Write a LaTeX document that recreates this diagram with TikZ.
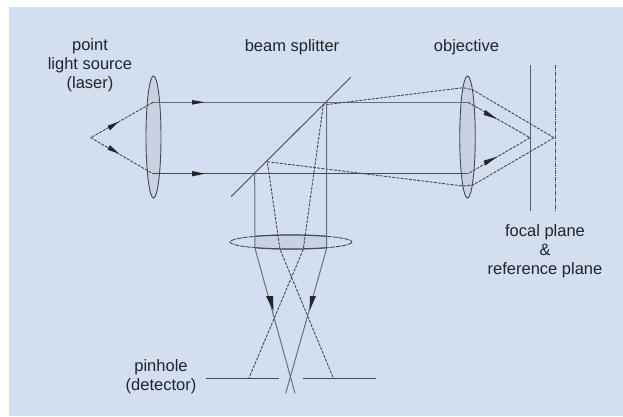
\documentclass[tikz,border=0pt]{standalone}
\usepackage{fontspec}
\setmainfont{Liberation Sans}
\definecolor{bgblue}{RGB}{211,223,240}
\definecolor{lensfill}{RGB}{200,210,227}
\definecolor{ink}{RGB}{70,73,80}
\definecolor{txt}{RGB}{35,35,40}
\usetikzlibrary{shapes.geometric}
\tikzset{
 solidray/.style={draw=ink,line width=1.1pt},
 lightray/.style={draw=ink!75!bgblue,line width=1pt},
 dashray/.style={draw=ink,line width=0.9pt,dash pattern=on 3pt off 1.2pt},
 lens/.style={ellipse,draw=ink,line width=0.9pt,fill=lensfill,inner sep=0pt},
 label/.style={text=txt,font=\fontsize{16.5}{18.9}\selectfont,align=center,inner sep=0pt},
 tipfill/.style={fill=black!85,draw=none},
}
\begin{document}
\begin{tikzpicture}[x=1pt,y=-1pt]
\useasboundingbox (0,0) rectangle (623,416);
\fill[white] (0,0) rectangle (623,416);
\fill[bgblue] (9,7) rectangle (623,416);
% lenses
\node[lens,minimum width=15pt,minimum height=122pt] (lensA) at (153.5,137) {};
\node[lens,minimum width=15.5pt,minimum height=122pt] (lensB) at (467.5,137) {};
\draw[ink,line width=0.9pt,dash pattern=on 5pt off 1pt] (291,242) ellipse (61 and 7);
\begin{scope}
 \clip (255,230) rectangle (327,255);
 \fill[lensfill] (291,242) ellipse (61 and 7);
 \draw[ink,line width=1.2pt] (291,242) ellipse (61 and 7);
\end{scope}
% coordinates
\coordinate (src) at (90.7,137.7);
\coordinate (a1) at (153,102.3);
\coordinate (a2) at (153,173.7);
\coordinate (t) at (326.7,102.3);
\coordinate (b) at (254.7,173.7);
\coordinate (o1) at (468,102.3);
\coordinate (o2) at (468,173.7);
\coordinate (f) at (530,137.7);
\coordinate (r) at (554,137.7);
% illumination
\draw[dashray] (a1) -- (src) -- (a2);
\draw[lightray] (a1) -- (o1);
\draw[solidray] (a2) -- (o2);
\draw[dashray] (o1) -- (f) -- (o2);
% splitter and planes
\draw[ink,line width=0.9pt] (231,196.7) -- (350.7,77.3);
\draw[ink!85!bgblue,line width=1.2pt] (530.3,65) -- (530.3,210.7);
\draw[ink,line width=0.9pt,dash pattern=on 4pt off 1pt on 1pt off 1pt] (555,65) -- (555,210.7);
% return from reference plane
\draw[dashray] (r) -- (473,90) -- (463.3,87.7) -- (323.3,105) -- (303.3,249.3) -- (249,378);
\draw[dashray] (r) -- (473,185) -- (463,186) -- (267.3,161.7) -- (280,249.3) -- (333.3,378);
% detection
\draw[lightray] (b) -- (255,248.3) -- (295,393.3);
\draw[lightray] (t) -- (326.7,248.3) -- (285.7,393.3);
% pinhole
\draw[ink,line width=1pt] (205.7,378) -- (278.7,378);
\draw[ink,line width=1pt] (303.3,378) -- (375.7,378);
% arrowheads
\fill[tipfill] (192,100) -- (205,102.3) -- (192,104.6) -- cycle;
\fill[tipfill] (192,171) -- (205,173.7) -- (192,176.4) -- cycle;
\fill[tipfill] (107.5,125.7) -- (119,121.6) -- (110,130.3) -- cycle;
\fill[tipfill] (107.5,149.7) -- (119,153.8) -- (110,145.1) -- cycle;
\fill[tipfill] (485.5,110) -- (497,119) -- (483.5,114.8) -- cycle;
\fill[tipfill] (485.5,165.5) -- (497,156.8) -- (483.5,160.7) -- cycle;
\fill[tipfill] (266,296) -- (273,296) -- (273.5,311) -- cycle;
\fill[tipfill] (310,296) -- (316,296) -- (309.5,311) -- cycle;
% labels
\node[label] (lblsrc) at (90,65) {point\\light source\\(laser)};
\node[label] (lblbs) at (292,47) {beam splitter};
\node[label] (lblobj) at (466.5,47) {objective};
\node[label] (lblplane) at (545,251.5) {focal plane\\\&\\reference plane};
\node[label] (lblpin) at (161,377) {pinhole\\(detector)};
\end{tikzpicture}
\end{document}
